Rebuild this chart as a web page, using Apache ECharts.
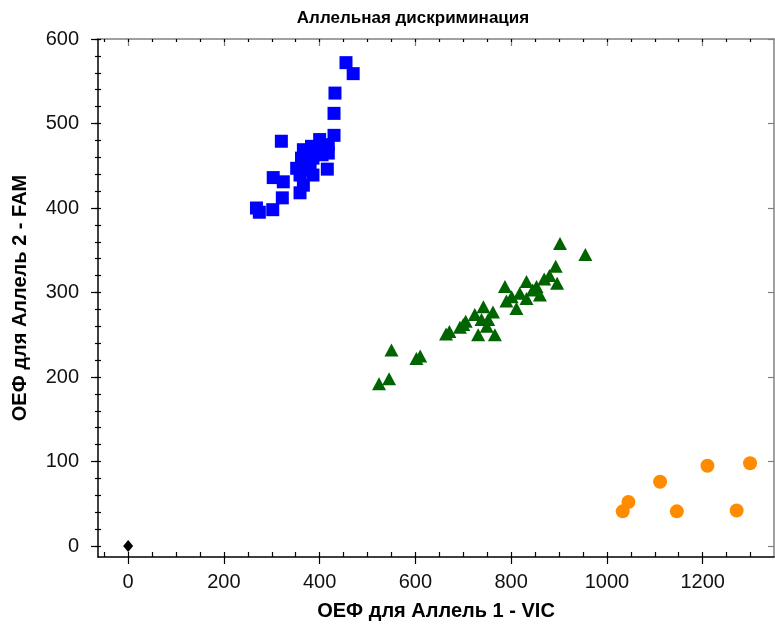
<!DOCTYPE html>
<html>
<head>
<meta charset="utf-8">
<script src="https://cdn.jsdelivr.net/npm/echarts@6/dist/echarts.min.js"></script>
<style>
  html, body { margin: 0; padding: 0; background: #fff; }
  #chart { width: 775px; height: 632px; }
</style>
</head>
<body>
<div id="chart"></div>
<script>
// allele 2 homozygotes (FAM) - blue squares
const famPoints = [
  [455, 572], [470, 559], [432, 536], [430, 512], [430, 486], [320, 479],
  [400, 481], [418, 475], [366, 469], [383, 473], [418, 465], [395, 470],
  [362, 459], [386, 459], [405, 463], [352, 447], [380, 445], [416, 446],
  [372, 452], [303, 436], [324, 431], [359, 439], [386, 439], [366, 427],
  [359, 418], [322, 412], [268, 400], [274, 395], [302, 398]
]
// heterozygotes - green triangles
const hetPoints = [
  [902, 358], [955, 345], [893, 331], [896, 311], [869, 316], [832, 313],
  [787, 307], [853, 307], [860, 297], [801, 295], [818, 299], [832, 293],
  [845, 303], [880, 320], [790, 290], [811, 281], [742, 283], [762, 277],
  [724, 274], [738, 268], [752, 268], [749, 260], [705, 266], [700, 262],
  [693, 259], [671, 254], [664, 251], [731, 250], [766, 250], [550, 232],
  [602, 222], [610, 225], [545, 198], [524, 192]
]
// allele 1 homozygotes (VIC) - orange circles
const vicPoints = [
  [1210, 95], [1299, 98], [1111, 76], [1045, 52], [1033, 41], [1146, 41], [1271, 42]
]
// no template control
const ntcPoints = [[0, 0]]

const xLabels = [0, 200, 400, 600, 800, 1000, 1200]
const xMinor = [-50, 0, 50, 100, 150, 200, 250, 300, 350, 400, 450, 500, 550, 600, 650, 700,
  750, 800, 850, 900, 950, 1000, 1050, 1100, 1150, 1200, 1250, 1300]
const yLabels = [0, 100, 200, 300, 400, 500, 600]
const yMinor = [0, 20, 40, 60, 80, 100, 120, 140, 160, 180, 200, 220, 240, 260, 280, 300,
  320, 340, 360, 380, 400, 420, 440, 460, 480, 500, 520, 540, 560, 580, 600]

const X_MIN = -63, X_MAX = 1349, Y_MIN = -13, Y_MAX = 600
const FONT = 'Liberation Sans, Arial, sans-serif'

const chart = echarts.init(document.getElementById('chart'))

// helper axes: only ticks (and optionally a line), used to draw crossing/minor ticks and the frame
function extraX(pos, values, len, inside, color) {
  return {
    type: 'value', position: pos, min: X_MIN, max: X_MAX,
    axisLine: { show: !!color, onZero: false, lineStyle: { color: color || '#000', width: 1.5 } },
    axisTick: { show: true, inside: inside, length: len, customValues: values, lineStyle: { color: color || '#000', width: 1.2 } },
    axisLabel: { show: false }, splitLine: { show: false }
  }
}
function extraY(pos, values, len, inside, color) {
  return {
    type: 'value', position: pos, min: Y_MIN, max: Y_MAX,
    axisLine: { show: !!color, onZero: false, lineStyle: { color: color || '#000', width: 1.5 } },
    axisTick: { show: true, inside: inside, length: len, customValues: values, lineStyle: { color: color || '#000', width: 1.2 } },
    axisLabel: { show: false }, splitLine: { show: false }
  }
}

chart.setOption({
  animation: false,
  backgroundColor: '#fff',
  title: {
    text: 'Аллельная дискриминация',
    left: 408, top: 5, textAlign: 'center',
    textStyle: { fontFamily: FONT, fontSize: 17, fontWeight: 'bold', color: '#000' }
  },
  grid: { left: 98, right: 1, top: 39, bottom: 75 },
  xAxis: [
    {
      type: 'value', position: 'bottom', min: X_MIN, max: X_MAX,
      name: 'ОЕФ для Аллель 1 - VIC', nameLocation: 'middle', nameGap: 44,
      nameTextStyle: { fontFamily: FONT, fontSize: 20, fontWeight: 'bold', color: '#000' },
      axisLine: { onZero: false, lineStyle: { color: '#000', width: 1.5 } },
      axisTick: { inside: false, length: 7, customValues: xLabels, lineStyle: { color: '#000', width: 1.2 } },
      axisLabel: {
        customValues: xLabels, margin: 15, fontFamily: FONT, fontSize: 20, color: '#111',
        formatter: v => String(v)
      },
      splitLine: { show: false }
    },
    extraX('bottom', xMinor, 5, true, null),
    extraX('top', xLabels, 7, true, '#808080'),
    extraX('top', xMinor, 3, true, null)
  ],
  yAxis: [
    {
      type: 'value', position: 'left', min: Y_MIN, max: Y_MAX,
      name: 'ОЕФ для Аллель 2 - FAM', nameLocation: 'middle', nameGap: 68,
      nameTextStyle: { fontFamily: FONT, fontSize: 20, fontWeight: 'bold', color: '#000' },
      axisLine: { onZero: false, lineStyle: { color: '#000', width: 1.5 } },
      axisTick: { inside: false, length: 7, customValues: yLabels, lineStyle: { color: '#000', width: 1.2 } },
      axisLabel: {
        customValues: yLabels, margin: 19, fontFamily: FONT, fontSize: 20, color: '#111',
        formatter: v => String(v)
      },
      splitLine: { show: false }
    },
    extraY('left', yMinor, 3, true, null),
    extraY('left', yMinor, 3, false, null),
    extraY('right', yLabels, 6, true, '#808080')
  ],
  series: [
    {
      type: 'scatter', name: 'FAM', data: famPoints, symbol: 'rect', symbolSize: 13,
      itemStyle: { color: '#0000ff', opacity: 1 }
    },
    {
      type: 'scatter', name: 'Het', data: hetPoints, symbol: 'triangle', symbolSize: [14, 13],
      itemStyle: { color: '#006400', opacity: 1 }
    },
    {
      type: 'scatter', name: 'VIC', data: vicPoints, symbol: 'circle', symbolSize: 14,
      itemStyle: { color: '#ff8c00', opacity: 1 }
    },
    {
      type: 'scatter', name: 'NTC', data: ntcPoints, symbol: 'diamond', symbolSize: [10, 12],
      itemStyle: { color: '#000', opacity: 1 }
    }
  ]
})
</script>
</body>
</html>
